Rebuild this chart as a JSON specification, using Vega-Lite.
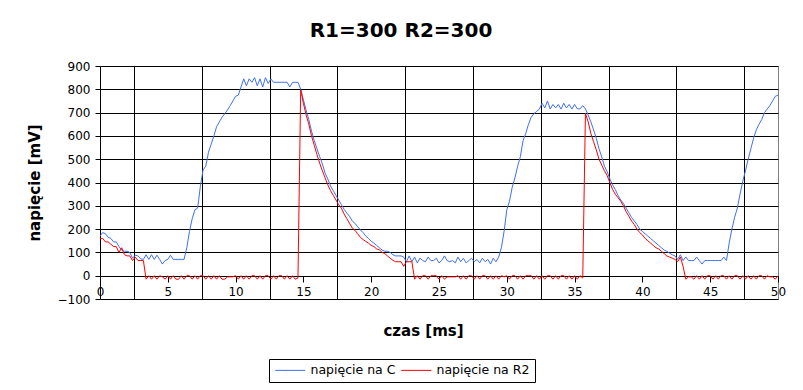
{
"$schema": "https://vega.github.io/schema/vega-lite/v6.json",
"width": 678, "height": 233,
"autosize": "none",
"padding": {"left": 100, "top": 66, "right": 25, "bottom": 91},
"background": "white",
"title": {"text": "R1=300 R2=300", "font": "DejaVu Sans", "fontSize": 20, "fontWeight": "bold", "color": "black", "anchor": "middle", "frame": "group", "dx": -38, "offset": 19},
"data": {"values": [
{"t":0.0,"C":170,"R2":160},{"t":0.2,"C":185,"R2":160},{"t":0.4,"C":180,"R2":145},{"t":0.6,"C":165,"R2":145},{"t":0.8,"C":160,"R2":135},
{"t":1.0,"C":145,"R2":125},{"t":1.2,"C":145,"R2":125},{"t":1.4,"C":125,"R2":100},{"t":1.6,"C":110,"R2":120},{"t":1.8,"C":105,"R2":90},
{"t":2.0,"C":105,"R2":85},{"t":2.2,"C":100,"R2":85},{"t":2.4,"C":75,"R2":65},{"t":2.6,"C":88,"R2":80},{"t":2.8,"C":85,"R2":65},
{"t":3.0,"C":72,"R2":65},{"t":3.2,"C":70,"R2":65},{"t":3.4,"C":90,"R2":-15},{"t":3.6,"C":70,"R2":0},{"t":3.8,"C":90,"R2":-15},
{"t":4.0,"C":70,"R2":0},{"t":4.2,"C":88,"R2":-15},{"t":4.4,"C":70,"R2":0},{"t":4.6,"C":50,"R2":-5},{"t":4.8,"C":65,"R2":-15},
{"t":5.0,"C":70,"R2":0},{"t":5.2,"C":88,"R2":-15},{"t":5.4,"C":70,"R2":0},{"t":5.6,"C":70,"R2":-15},{"t":5.8,"C":70,"R2":-15},
{"t":6.0,"C":70,"R2":0},{"t":6.2,"C":70,"R2":-15},{"t":6.4,"C":120,"R2":0},{"t":6.6,"C":190,"R2":0},{"t":6.8,"C":245,"R2":-15},
{"t":7.0,"C":283,"R2":0},{"t":7.2,"C":290,"R2":-15},{"t":7.4,"C":383,"R2":0},{"t":7.6,"C":454,"R2":0},{"t":7.8,"C":470,"R2":-15},
{"t":8.0,"C":530,"R2":0},{"t":8.2,"C":565,"R2":-15},{"t":8.4,"C":600,"R2":0},{"t":8.6,"C":640,"R2":-15},{"t":8.8,"C":660,"R2":0},
{"t":9.0,"C":680,"R2":-15},{"t":9.2,"C":695,"R2":-15},{"t":9.4,"C":711,"R2":-5},{"t":9.6,"C":730,"R2":-5},{"t":9.8,"C":750,"R2":-5},
{"t":10.0,"C":770,"R2":0},{"t":10.2,"C":775,"R2":-15},{"t":10.4,"C":810,"R2":0},{"t":10.6,"C":845,"R2":-15},{"t":10.8,"C":815,"R2":0},
{"t":11.0,"C":845,"R2":-15},{"t":11.2,"C":830,"R2":0},{"t":11.4,"C":850,"R2":0},{"t":11.6,"C":815,"R2":-15},{"t":11.8,"C":845,"R2":0},
{"t":12.0,"C":810,"R2":-15},{"t":12.2,"C":850,"R2":0},{"t":12.4,"C":825,"R2":0},{"t":12.6,"C":845,"R2":-15},{"t":12.8,"C":830,"R2":0},
{"t":13.0,"C":830,"R2":-15},{"t":13.2,"C":830,"R2":0},{"t":13.4,"C":830,"R2":0},{"t":13.6,"C":830,"R2":-15},{"t":13.8,"C":830,"R2":0},
{"t":14.0,"C":810,"R2":-15},{"t":14.2,"C":830,"R2":0},{"t":14.4,"C":830,"R2":-15},{"t":14.6,"C":830,"R2":-10},{"t":14.8,"C":800,"R2":797},
{"t":15.0,"C":755,"R2":740},{"t":15.2,"C":710,"R2":690},{"t":15.4,"C":670,"R2":650},{"t":15.6,"C":620,"R2":600},{"t":15.8,"C":580,"R2":560},
{"t":16.0,"C":545,"R2":520},{"t":16.2,"C":511,"R2":483},{"t":16.4,"C":480,"R2":450},{"t":16.6,"C":440,"R2":420},{"t":16.8,"C":415,"R2":390},
{"t":17.0,"C":385,"R2":365},{"t":17.2,"C":365,"R2":345},{"t":17.4,"C":345,"R2":325},{"t":17.6,"C":325,"R2":305},{"t":17.8,"C":305,"R2":290},
{"t":18.0,"C":285,"R2":265},{"t":18.2,"C":269,"R2":245},{"t":18.4,"C":255,"R2":225},{"t":18.6,"C":235,"R2":205},{"t":18.8,"C":225,"R2":195},
{"t":19.0,"C":210,"R2":180},{"t":19.2,"C":197,"R2":165},{"t":19.4,"C":185,"R2":155},{"t":19.6,"C":170,"R2":147},{"t":19.8,"C":160,"R2":140},
{"t":20.0,"C":148,"R2":130},{"t":20.2,"C":140,"R2":125},{"t":20.4,"C":130,"R2":115},{"t":20.6,"C":120,"R2":111},{"t":20.8,"C":110,"R2":100},
{"t":21.0,"C":105,"R2":95},{"t":21.2,"C":105,"R2":85},{"t":21.4,"C":100,"R2":75},{"t":21.6,"C":90,"R2":66},{"t":21.8,"C":85,"R2":60},
{"t":22.0,"C":85,"R2":60},{"t":22.2,"C":85,"R2":60},{"t":22.4,"C":80,"R2":40},{"t":22.6,"C":60,"R2":60},{"t":22.8,"C":85,"R2":60},
{"t":23.0,"C":60,"R2":60},{"t":23.2,"C":80,"R2":-15},{"t":23.4,"C":55,"R2":0},{"t":23.6,"C":75,"R2":-15},{"t":23.8,"C":65,"R2":0},
{"t":24.0,"C":60,"R2":0},{"t":24.2,"C":80,"R2":-15},{"t":24.4,"C":65,"R2":0},{"t":24.6,"C":65,"R2":0},{"t":24.8,"C":75,"R2":0},
{"t":25.0,"C":55,"R2":-15},{"t":25.2,"C":65,"R2":0},{"t":25.4,"C":85,"R2":-15},{"t":25.6,"C":65,"R2":-5},{"t":25.8,"C":60,"R2":-5},
{"t":26.0,"C":65,"R2":-5},{"t":26.2,"C":55,"R2":-5},{"t":26.4,"C":80,"R2":0},{"t":26.6,"C":60,"R2":-15},{"t":26.8,"C":75,"R2":0},
{"t":27.0,"C":55,"R2":-15},{"t":27.2,"C":65,"R2":0},{"t":27.4,"C":75,"R2":0},{"t":27.6,"C":60,"R2":-15},{"t":27.8,"C":70,"R2":0},
{"t":28.0,"C":55,"R2":-15},{"t":28.2,"C":75,"R2":0},{"t":28.4,"C":60,"R2":0},{"t":28.6,"C":70,"R2":-15},{"t":28.8,"C":50,"R2":0},
{"t":29.0,"C":75,"R2":-15},{"t":29.2,"C":60,"R2":0},{"t":29.4,"C":80,"R2":-15},{"t":29.6,"C":120,"R2":0},{"t":29.8,"C":190,"R2":-5},
{"t":30.0,"C":283,"R2":0},{"t":30.2,"C":320,"R2":-15},{"t":30.4,"C":380,"R2":0},{"t":30.6,"C":420,"R2":0},{"t":30.8,"C":470,"R2":-15},
{"t":31.0,"C":511,"R2":0},{"t":31.2,"C":580,"R2":-15},{"t":31.4,"C":611,"R2":0},{"t":31.6,"C":650,"R2":0},{"t":31.8,"C":680,"R2":0},
{"t":32.0,"C":695,"R2":-15},{"t":32.2,"C":705,"R2":0},{"t":32.4,"C":715,"R2":-15},{"t":32.6,"C":740,"R2":0},{"t":32.8,"C":720,"R2":-15},
{"t":33.0,"C":750,"R2":0},{"t":33.2,"C":715,"R2":0},{"t":33.4,"C":735,"R2":-15},{"t":33.6,"C":720,"R2":0},{"t":33.8,"C":735,"R2":-15},
{"t":34.0,"C":715,"R2":0},{"t":34.2,"C":740,"R2":0},{"t":34.4,"C":720,"R2":-15},{"t":34.6,"C":735,"R2":0},{"t":34.8,"C":715,"R2":-15},
{"t":35.0,"C":735,"R2":0},{"t":35.2,"C":716,"R2":-15},{"t":35.4,"C":716,"R2":0},{"t":35.6,"C":730,"R2":-10},{"t":35.8,"C":716,"R2":697},
{"t":36.0,"C":690,"R2":660},{"t":36.2,"C":660,"R2":610},{"t":36.4,"C":626,"R2":575},{"t":36.6,"C":590,"R2":540},{"t":36.8,"C":545,"R2":500},
{"t":37.0,"C":510,"R2":475},{"t":37.2,"C":470,"R2":450},{"t":37.4,"C":447,"R2":430},{"t":37.6,"C":415,"R2":400},{"t":37.8,"C":390,"R2":370},
{"t":38.0,"C":370,"R2":350},{"t":38.2,"C":345,"R2":335},{"t":38.4,"C":325,"R2":320},{"t":38.6,"C":311,"R2":300},{"t":38.8,"C":290,"R2":275},
{"t":39.0,"C":270,"R2":255},{"t":39.2,"C":250,"R2":235},{"t":39.4,"C":235,"R2":220},{"t":39.6,"C":220,"R2":200},{"t":39.8,"C":200,"R2":185},
{"t":40.0,"C":190,"R2":175},{"t":40.2,"C":180,"R2":160},{"t":40.4,"C":170,"R2":150},{"t":40.6,"C":160,"R2":140},{"t":40.8,"C":150,"R2":130},
{"t":41.0,"C":140,"R2":120},{"t":41.2,"C":130,"R2":115},{"t":41.4,"C":120,"R2":105},{"t":41.6,"C":110,"R2":95},{"t":41.8,"C":105,"R2":85},
{"t":42.0,"C":97,"R2":80},{"t":42.2,"C":90,"R2":75},{"t":42.4,"C":85,"R2":70},{"t":42.6,"C":70,"R2":60},{"t":42.8,"C":90,"R2":80},
{"t":43.0,"C":65,"R2":40},{"t":43.2,"C":80,"R2":-15},{"t":43.4,"C":65,"R2":-5},{"t":43.6,"C":65,"R2":-5},{"t":43.8,"C":65,"R2":-15},
{"t":44.0,"C":80,"R2":0},{"t":44.2,"C":65,"R2":-15},{"t":44.4,"C":50,"R2":0},{"t":44.6,"C":65,"R2":-15},{"t":44.8,"C":65,"R2":0},
{"t":45.0,"C":65,"R2":0},{"t":45.2,"C":65,"R2":-15},{"t":45.4,"C":65,"R2":0},{"t":45.6,"C":65,"R2":-15},{"t":45.8,"C":65,"R2":0},
{"t":46.0,"C":80,"R2":0},{"t":46.2,"C":65,"R2":-15},{"t":46.4,"C":140,"R2":0},{"t":46.6,"C":200,"R2":-15},{"t":46.8,"C":250,"R2":0},
{"t":47.0,"C":290,"R2":0},{"t":47.2,"C":350,"R2":-15},{"t":47.4,"C":405,"R2":0},{"t":47.6,"C":450,"R2":-15},{"t":47.8,"C":500,"R2":0},
{"t":48.0,"C":545,"R2":-15},{"t":48.2,"C":590,"R2":0},{"t":48.4,"C":626,"R2":-15},{"t":48.6,"C":650,"R2":0},{"t":48.8,"C":670,"R2":0},
{"t":49.0,"C":700,"R2":-15},{"t":49.2,"C":715,"R2":0},{"t":49.4,"C":730,"R2":-5},{"t":49.6,"C":750,"R2":-5},{"t":49.8,"C":770,"R2":-15},
{"t":50.0,"C":775,"R2":0}
]},
"transform": [{"fold": ["C", "R2"], "as": ["seria", "v"]}],
"mark": {"type": "line", "strokeWidth": 1, "clip": true},
"encoding": {
  "x": {"field": "t", "type": "quantitative",
        "scale": {"domain": [0, 50], "nice": false, "zero": false},
        "axis": {"values": [0,2.5,5,7.5,10,12.5,15,17.5,20,22.5,25,27.5,30,32.5,35,37.5,40,42.5,45,47.5,50],
                 "offset": -23, "title": "czas [ms]", "titleX": 323, "titleY": 54, "titleBaseline": "middle", "titleAlign": "center",
                 "grid": true, "gridColor": "black",
                 "gridOpacity": {"condition": {"test": "datum.value % 5 !== 0", "value": 1}, "value": 0},
                 "tickOpacity": {"condition": {"test": "datum.value % 5 === 0", "value": 1}, "value": 0},
                 "labelExpr": "datum.value % 5 === 0 ? datum.label : ''",
                 "labelOverlap": false, "labelFlush": false, "tickSize": 6, "labelPadding": 4}},
  "y": {"field": "v", "type": "quantitative",
        "scale": {"domain": [-100, 900], "nice": false},
        "axis": {"values": [-100,0,100,200,300,400,500,600,700,800,900],
                 "title": "napięcie [mV]", "titleX": -66, "titleY": 116.5, "titleBaseline": "middle", "titleAlign": "center", "titleAngle": 270,
                 "grid": true, "gridColor": "black", "gridOpacity": 1, "tickSize": 5, "labelPadding": 5}},
  "color": {"field": "seria", "type": "nominal",
            "scale": {"domain": ["C", "R2"], "range": ["#3f6ff5", "#ff0000"]},
            "legend": {"orient": "none", "legendX": 169, "legendY": 293, "direction": "horizontal", "title": null,
                       "labelExpr": "'napięcie na ' + datum.label",
                       "strokeColor": "black", "padding": 5, "symbolType": "M-1,0H5", "symbolSize": 100, "symbolStrokeWidth": 1,
                       "labelFont": "DejaVu Sans", "labelFontSize": 12.5, "labelColor": "black", "labelOffset": 24, "columnPadding": 3}}
},
"config": {
  "view": {"stroke": "#808080"},
  "axis": {"labelFont": "DejaVu Sans", "labelFontSize": 12, "labelColor": "black",
           "titleFont": "DejaVu Sans", "titleFontSize": 15, "titleFontWeight": "bold", "titleColor": "black",
           "domainColor": "black", "tickColor": "black", "gridWidth": 1, "domainWidth": 1, "tickWidth": 1}
}
}
